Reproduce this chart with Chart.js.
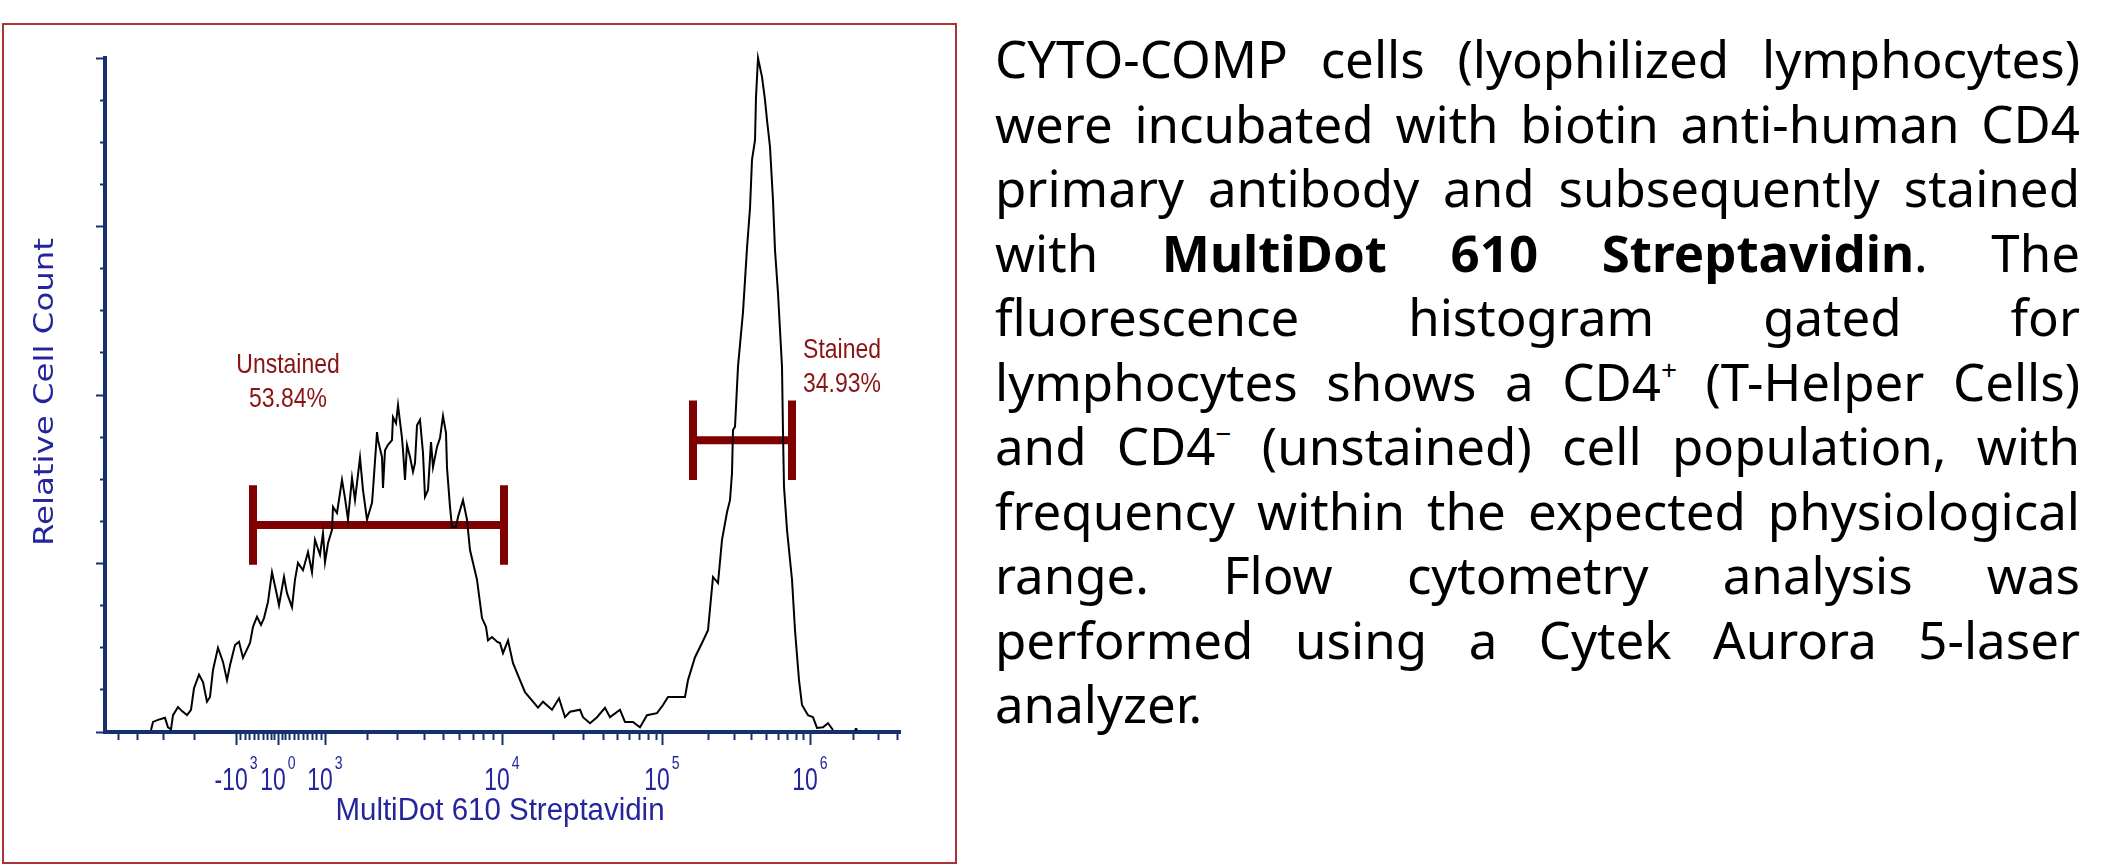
<!DOCTYPE html>
<html>
<head>
<meta charset="utf-8">
<script src="https://cdn.jsdelivr.net/npm/chart.js@4.4.1/dist/chart.umd.min.js"></script>
<style>
  body { margin: 0; background: #fff; }
  #frame {
    position: absolute; left: 2px; top: 23px; width: 951px; height: 837px;
    border: 2px solid #a83434;
  }
  #wrap { position: absolute; left: 0; top: 0; width: 960px; height: 868px; }
  #text {
    position: absolute; left: 995px; top: 26px; width: 1085px;
    font-family: "Noto Sans", sans-serif; font-size: 51px; line-height: 64.5px; color: #000;
  }
  #text .j { text-align: justify; text-align-last: justify; }
  #text sup { font-size: 0.55em; line-height: 0; vertical-align: 0.75em; }
</style>
</head>
<body>
<div id="frame"></div>
<div id="wrap"><canvas id="chart"></canvas></div>
<div id="text">
  <div class="j">CYTO-COMP cells (lyophilized lymphocytes)</div>
  <div class="j">were incubated with biotin anti-human CD4</div>
  <div class="j">primary antibody and subsequently stained</div>
  <div class="j">with <b>MultiDot 610 Streptavidin</b>. The</div>
  <div class="j">fluorescence histogram gated for</div>
  <div class="j">lymphocytes shows a CD4<sup>+</sup> (T-Helper Cells)</div>
  <div class="j">and CD4<sup>−</sup> (unstained) cell population, with</div>
  <div class="j">frequency within the expected physiological</div>
  <div class="j">range. Flow cytometry analysis was</div>
  <div class="j">performed using a Cytek Aurora 5-laser</div>
  <div>analyzer.</div>
</div>
<script>
// histogram, x = display channel, y = relative count (peak = 100)
const channels = [46, 48, 53, 60, 63, 66, 68, 73, 77, 82, 86, 89, 94, 98, 102, 105, 108, 113, 118, 122,
  125, 130, 134, 138, 145, 148, 152, 156, 159, 163, 167, 172, 174, 179, 182, 187, 190, 193, 198, 203,
  207, 210, 215, 218, 220, 223, 227, 228, 232, 237, 240, 243, 247, 250, 255, 258, 262, 267, 268, 272,
  273, 277, 278, 280, 283, 287, 288, 291, 293, 297, 298, 300, 302, 305, 308, 310, 312, 315, 318, 320,
  323, 326, 328, 332, 335, 338, 341, 342, 345, 347, 351, 353, 358, 362, 365, 372, 377, 381, 383, 387,
  392, 395, 398, 403, 408, 415, 420, 428, 433, 438, 447, 454, 460, 465, 475, 478, 485, 492, 500, 505,
  515, 520, 528, 535, 542, 552, 558, 563, 580, 583, 590, 597, 603, 608, 613, 617, 622, 625, 627, 628,
  630, 633, 638, 642, 645, 647, 650, 651, 653, 657, 660, 662, 665, 668, 670, 673, 677, 678, 679, 682,
  687, 690, 694, 697, 703, 708, 712, 718, 723, 728];
const counts = [0.3, 1.5, 1.8, 2.1, 0.7, 0.4, 2.5, 3.7, 3.1, 2.5, 3.3, 6.5, 8.5, 7.4, 4.5, 5.2, 9.2, 12.5, 10.4, 7.7,
  9.9, 12.9, 13.4, 11.0, 13.2, 15.6, 17.1, 15.9, 16.9, 19.3, 23.7, 20.3, 18.8, 23.0, 20.6, 18.5, 22.6, 25.1, 24.0, 26.7,
  23.7, 28.5, 26.3, 29.5, 25.2, 28.0, 30.0, 33.4, 32.5, 37.4, 34.7, 31.5, 37.7, 34.4, 40.7, 35.9, 31.5, 34.0, 35.9, 44.5,
  43.3, 40.8, 36.2, 41.8, 42.6, 43.3, 46.7, 45.8, 48.5, 43.6, 41.8, 37.4, 42.6, 40.8, 38.6, 39.9, 45.5, 46.3, 41.4, 34.9,
  35.9, 43.0, 39.3, 42.3, 43.6, 46.9, 44.4, 39.2, 33.4, 30.4, 30.4, 31.9, 34.4, 31.5, 27.0, 22.6, 16.9, 15.6, 13.6, 14.1,
  13.4, 13.2, 11.7, 13.6, 10.2, 7.7, 5.9, 4.5, 3.6, 4.5, 3.3, 5.0, 2.2, 3.0, 3.3, 2.2, 1.3, 2.2, 3.6, 2.2,
  3.3, 1.5, 1.5, 0.7, 2.5, 2.8, 4.0, 5.2, 5.2, 7.7, 11.1, 13.2, 15.1, 23.0, 22.1, 28.5, 32.6, 34.4, 38.4, 44.8,
  45.3, 54.2, 62.3, 71.8, 77.7, 84.9, 87.8, 94.2, 100, 97.2, 93.8, 90.8, 86.8, 78.9, 71.5, 65.1, 54.2, 44.4, 36.4, 30.0,
  22.6, 15.1, 7.7, 4.0, 2.5, 2.2, 0.6, 0.7, 1.3, 0.3];
const strayChannels = [751];
const strayCounts = [0.4];

// biexponential axis: labelled decades and minor ticks, in channels
const majorTickChannels = [131, 173, 220, 397, 557, 705];
const tickBases = ["-10", "10", "10", "10", "10", "10"];
const tickExponents = ["3", "0", "3", "4", "5", "6"];
const minorTickChannels = [13, 32, 58, 89,
  135, 140, 144, 149, 153, 158, 162, 166, 169, 177, 180, 184, 189, 193, 198, 202, 207, 211, 216,
  262, 292, 319, 338, 354, 368, 378, 388,
  448, 478, 498, 512, 524, 534, 543, 551,
  603, 629, 646, 661, 673, 682, 691, 698,
  748, 773, 792];
const countMajorTicks = [0, 25, 50, 75, 100];
const countMinorTicks = [6.25, 12.5, 18.75, 31.25, 37.5, 43.75, 56.25, 62.5, 68.75, 81.25, 87.5, 93.75];

// gates
const gateNames = ["Unstained", "Stained"];
const gatePercents = ["53.84%", "34.93%"];
const gateStarts = [148, 588];
const gateEnds = [399, 687];
const gateLevels = [30.7, 43.3];

const axisColor = "#16306e";
const labelBlue = "#24249c";
const gateRed = "#7f0000";
const capHalf = 5.9;
const labelSpots = [{x: 183, y: 53.3}, {x: 737, y: 55.5}];

function gatePoints(i) {
  const lo = gateStarts[i], hi = gateEnds[i], lv = gateLevels[i];
  return [
    {x: lo, y: lv + capHalf}, {x: lo, y: lv - capHalf}, {x: lo, y: null},
    {x: lo, y: lv}, {x: hi, y: lv}, {x: hi, y: null},
    {x: hi, y: lv + capHalf}, {x: hi, y: lv - capHalf}
  ];
}

function tickAxis(pos, min, max, list, len, border) {
  return {
    type: "linear",
    position: pos,
    min: min,
    max: max,
    afterBuildTicks: (s) => { s.ticks = list.map(v => ({value: v})); },
    ticks: {display: false},
    grid: {drawOnChartArea: false, drawTicks: true, tickLength: len, tickWidth: 2, tickColor: axisColor},
    border: {display: border, color: axisColor, width: 4}
  };
}

function drawScaled(ctx, text, x, y, font, sx, align) {
  ctx.save();
  ctx.font = font;
  ctx.translate(x, y);
  ctx.scale(sx, 1);
  ctx.textAlign = align;
  ctx.textBaseline = "alphabetic";
  ctx.fillText(text, 0, 0);
  ctx.restore();
}

// texts drawn on the canvas after the chart
const textPlugin = {
  id: "cytoText",
  afterDraw(chart) {
    const ctx = chart.ctx;
    const xs = chart.scales.x, ys = chart.scales.y;
    const bottom = ys.getPixelForValue(0);
    const baseFont = '31px "Liberation Sans", Arial, sans-serif';
    const expFont = '19px "Liberation Sans", Arial, sans-serif';
    ctx.save();
    ctx.fillStyle = labelBlue;
    majorTickChannels.forEach((v, i) => {
      const px = xs.getPixelForValue(v);
      ctx.font = baseFont;
      const bw = ctx.measureText(tickBases[i]).width * 0.74;
      ctx.font = expFont;
      const ew = ctx.measureText(tickExponents[i]).width * 0.74;
      const left = px - (bw + 2 + ew) / 2;
      drawScaled(ctx, tickBases[i], left, bottom + 58, baseFont, 0.74, "left");
      drawScaled(ctx, tickExponents[i], left + bw + 2, bottom + 37, expFont, 0.74, "left");
    });

    // axis titles
    drawScaled(ctx, "MultiDot 610 Streptavidin", 500, bottom + 88,
      '31px "Liberation Sans", Arial, sans-serif', 0.95, "center");
    ctx.save();
    ctx.translate(53, (ys.top + ys.bottom) / 2 - 3);
    ctx.rotate(-Math.PI / 2);
    drawScaled(ctx, "Relative Cell Count", 0, 0, '27px "DejaVu Sans", sans-serif', 1.2, "center");
    ctx.restore();

    // gate labels
    ctx.fillStyle = "#8a1414";
    const gateFont = '28px "Liberation Sans", Arial, sans-serif';
    labelSpots.forEach((p, i) => {
      const px = xs.getPixelForValue(p.x), py = ys.getPixelForValue(p.y);
      drawScaled(ctx, gateNames[i], px, py, gateFont, 0.82, "center");
      drawScaled(ctx, gatePercents[i], px, py + 34, gateFont, 0.82, "center");
    });
    ctx.restore();
  }
};

new Chart(document.getElementById("chart"), {
  type: "line",
  data: {
    datasets: [
      {
        data: channels.map((c, i) => ({x: c, y: counts[i]})),
        borderColor: "#000",
        borderWidth: 2,
        pointRadius: 0,
        tension: 0,
        clip: false
      },
      {
        data: strayChannels.map((c, i) => ({x: c, y: strayCounts[i]})),
        showLine: false,
        pointRadius: 1.5,
        pointBackgroundColor: "#000",
        pointBorderWidth: 0
      },
      {
        data: gatePoints(0),
        borderColor: gateRed,
        borderWidth: 8,
        pointRadius: 0,
        spanGaps: false
      },
      {
        data: gatePoints(1),
        borderColor: gateRed,
        borderWidth: 8,
        pointRadius: 0,
        spanGaps: false
      }
    ]
  },
  options: {
    responsive: true,
    maintainAspectRatio: false,
    animation: false,
    layout: {padding: {left: 105, right: 60, top: 58, bottom: 136}},
    plugins: {legend: {display: false}, tooltip: {enabled: false}},
    scales: {
      x: tickAxis({y: 0}, 0, 795, majorTickChannels, 11, true),
      x2: tickAxis({y: 0}, 0, 795, minorTickChannels, 8, false),
      y: tickAxis({x: 0}, 0, 100, countMajorTicks, 7, true),
      y2: tickAxis({x: 0}, 0, 100, countMinorTicks, 5, false)
    }
  },
  plugins: [textPlugin]
});
</script>
</body>
</html>
